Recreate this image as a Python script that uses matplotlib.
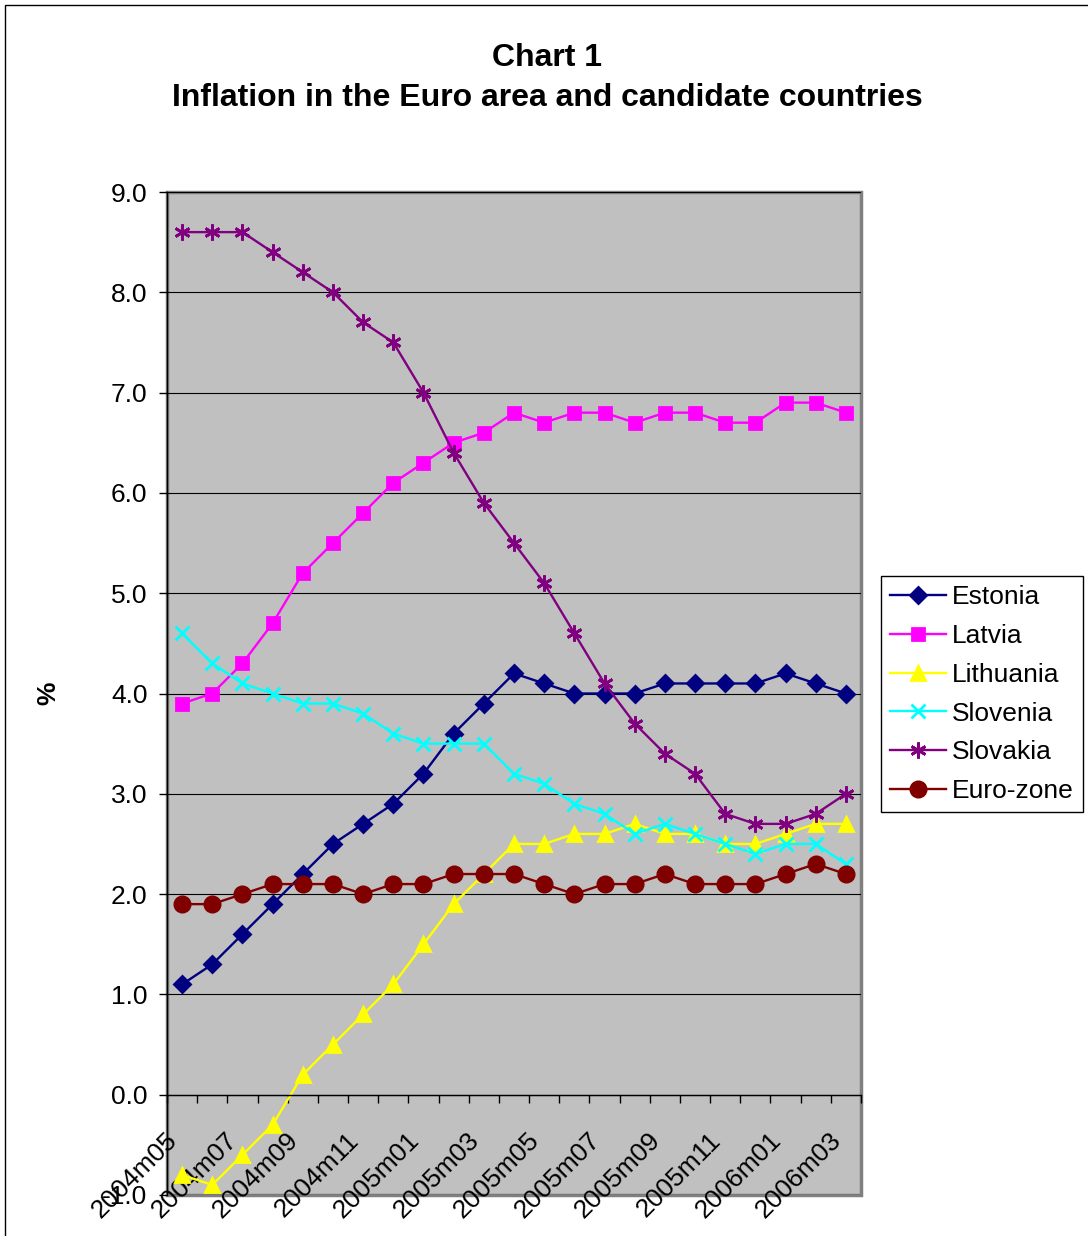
import matplotlib
matplotlib.use('Agg')
import matplotlib.pyplot as plt
from matplotlib.patches import Rectangle

plt.rcParams['font.family'] = ['Liberation Sans', 'DejaVu Sans']

# Monthly inflation, % year on year
months = ['2004m05', '2004m06', '2004m07', '2004m08', '2004m09', '2004m10',
          '2004m11', '2004m12', '2005m01', '2005m02', '2005m03', '2005m04',
          '2005m05', '2005m06', '2005m07', '2005m08', '2005m09', '2005m10',
          '2005m11', '2005m12', '2006m01', '2006m02', '2006m03']

estonia = [1.1, 1.3, 1.6, 1.9, 2.2, 2.5, 2.7, 2.9, 3.2, 3.6, 3.9, 4.2,
           4.1, 4.0, 4.0, 4.0, 4.1, 4.1, 4.1, 4.1, 4.2, 4.1, 4.0]
latvia = [3.9, 4.0, 4.3, 4.7, 5.2, 5.5, 5.8, 6.1, 6.3, 6.5, 6.6, 6.8,
          6.7, 6.8, 6.8, 6.7, 6.8, 6.8, 6.7, 6.7, 6.9, 6.9, 6.8]
lithuania = [-0.8, -0.9, -0.6, -0.3, 0.2, 0.5, 0.8, 1.1, 1.5, 1.9, 2.2, 2.5,
             2.5, 2.6, 2.6, 2.7, 2.6, 2.6, 2.5, 2.5, 2.6, 2.7, 2.7]
slovenia = [4.6, 4.3, 4.1, 4.0, 3.9, 3.9, 3.8, 3.6, 3.5, 3.5, 3.5, 3.2,
            3.1, 2.9, 2.8, 2.6, 2.7, 2.6, 2.5, 2.4, 2.5, 2.5, 2.3]
slovakia = [8.6, 8.6, 8.6, 8.4, 8.2, 8.0, 7.7, 7.5, 7.0, 6.4, 5.9, 5.5,
            5.1, 4.6, 4.1, 3.7, 3.4, 3.2, 2.8, 2.7, 2.7, 2.8, 3.0]
eurozone = [1.9, 1.9, 2.0, 2.1, 2.1, 2.1, 2.0, 2.1, 2.1, 2.2, 2.2, 2.2,
            2.1, 2.0, 2.1, 2.1, 2.2, 2.1, 2.1, 2.1, 2.2, 2.3, 2.2]

series = [
    ('Estonia', estonia, '#000080', 'D', 8.5),
    ('Latvia', latvia, '#FF00FF', 's', 8.5),
    ('Lithuania', lithuania, '#FFFF00', '^', 10),
    ('Slovenia', slovenia, '#00FFFF', 'x', 9.5),
    ('Slovakia', slovakia, '#800080', (6, 2, 0), 11.5),
    ('Euro-zone', eurozone, '#800000', 'o', 11),
]

W, H = 1088, 1236
fig = plt.figure(figsize=(W / 100, H / 100), dpi=100)
fig.patch.set_facecolor('white')

# thin frame round the chart
fig.patches.append(Rectangle((5 / W, -0.1), 2, 1 - 5 / H + 0.1,
                             transform=fig.transFigure, fill=False,
                             ec='black', lw=1))

ax = fig.add_axes([167 / W, 1 - 1195 / H, (861 - 167) / W, (1195 - 192) / H])
ax.set_facecolor('#C0C0C0')
ax.patch.set_edgecolor('#808080')
ax.patch.set_linewidth(2.5)

x = list(range(len(months)))
for name, vals, color, marker, ms in series:
    ax.plot(x, vals, color=color, lw=1.7, marker=marker, ms=ms,
            mfc=color, mec=color, mew=2, label=name)

ax.set_xlim(-0.5, len(months) - 0.5)
ax.set_ylim(-1, 9)
ax.set_yticks(range(-1, 10))
ax.set_yticklabels(['%.1f' % v for v in range(-1, 10)])
ax.yaxis.grid(True, color='black', lw=0.8)
ax.set_axisbelow(True)

for side in ['top', 'right']:
    ax.spines[side].set_visible(False)
ax.spines['left'].set_color('black')
ax.spines['left'].set_linewidth(1)
ax.spines['bottom'].set_position(('data', 0))
ax.spines['bottom'].set_color('black')
ax.spines['bottom'].set_linewidth(1)

ax.tick_params(axis='y', direction='out', length=6, width=1,
               labelsize=19, pad=8)
ax.set_xticks(x[::2])
ax.set_xticklabels(months[::2], rotation=45, ha='right', rotation_mode='default')
ax.set_xticks([i - 0.5 for i in range(len(months) + 1)], minor=True)
ax.tick_params(axis='x', which='major', length=0, labelsize=19, pad=24)
ax.tick_params(axis='x', which='minor', direction='out', length=6, width=1)

fig.text(547 / W, 1 - 58 / H, 'Chart 1', ha='center', va='center',
         fontsize=23, fontweight='bold')
fig.text(547 / W, 1 - 98 / H,
         'Inflation in the Euro area and candidate countries',
         ha='center', va='center', fontsize=23, fontweight='bold')
fig.text(48 / W, 1 - 693 / H, '%', rotation=90, ha='center', va='center',
         fontsize=19, fontweight='bold')

leg = fig.legend(loc='upper left', bbox_to_anchor=(881 / W, 1 - 576 / H),
                 fontsize=19, frameon=True, fancybox=False, framealpha=1,
                 edgecolor='black', borderpad=0.35, labelspacing=0.56,
                 handlelength=2.1, handletextpad=0.25, borderaxespad=0)
leg.get_frame().set_linewidth(1)

fig.savefig('out.png', dpi=100)
